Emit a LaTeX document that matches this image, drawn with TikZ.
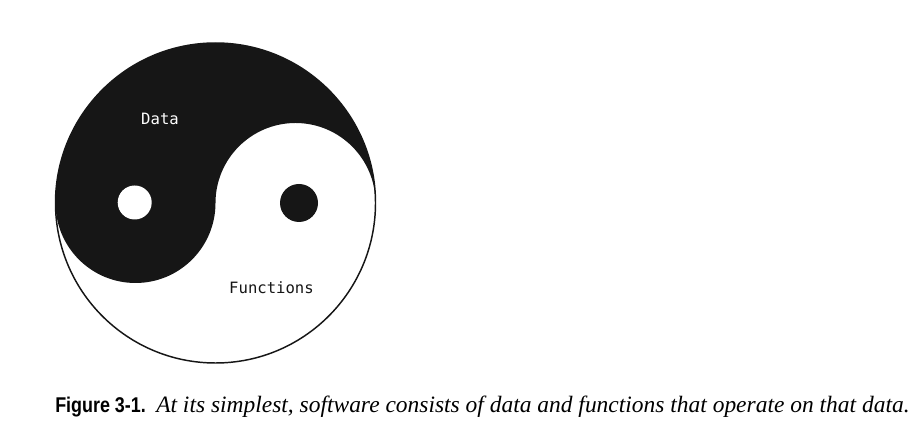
\documentclass[tikz,border=0pt]{standalone}
\usepackage{fontspec}
\newfontfamily\codefont{DejaVu Sans Mono}
\newfontfamily\figfont[FakeStretch=0.84]{Liberation Sans}
\newfontfamily\captionfont{Liberation Serif}
\definecolor{ink}{RGB}{22,22,22}
\begin{document}
\begin{tikzpicture}[x=0.75pt,y=0.75pt]
\useasboundingbox (0,0) rectangle (921,434);
% black half with its bulge
\fill[ink] (55.5,231) arc[start angle=180,end angle=0,radius=160]
  arc[start angle=0,end angle=180,radius=80]
  arc[start angle=0,end angle=-180,radius=80] -- cycle;
\draw[ink,line width=1.1pt] (215.5,231) circle[radius=160];
% the two eyes
\fill[white] (134.7,231.5) circle[radius=17];
\fill[ink] (299,231) circle[radius=19];
\node[white,font=\codefont\fontsize{11.7}{14}\selectfont] (data) at (160,315) {Data};
\node[ink,font=\codefont\fontsize{11.7}{14}\selectfont] (functions) at (271.5,146) {Functions};
% caption
\node[anchor=base west,inner sep=0pt,font=\figfont\bfseries\fontsize{16}{18}\selectfont] (figlabel) at (55,21) {Figure 3-1.};
\node[anchor=base west,inner sep=0pt,font=\captionfont\itshape\fontsize{17.6}{20}\selectfont] (caption) at (156,21) {At its simplest, software consists of data and functions that operate on that data.};
\end{tikzpicture}
\end{document}
